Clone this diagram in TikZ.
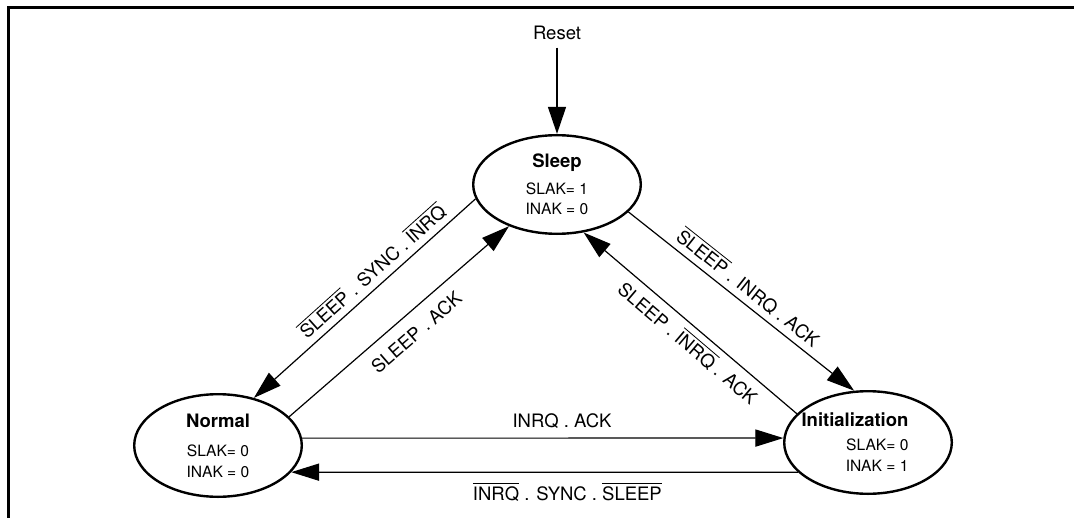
\documentclass[tikz,border=0pt]{standalone}
\usepackage{fontspec}
\setmainfont{TeX Gyre Heros}
\usetikzlibrary{arrows.meta,shapes.geometric}

\newcommand{\negsig}[1]{$\overline{\mbox{#1}}$}
\newcommand{\statename}[1]{{\fontsize{9.25}{10.4}\selectfont\bfseries #1}}
\newcommand{\padr}{\rule{13pt}{0pt}}

\begin{document}
\begin{tikzpicture}[
  x=0.5pt, y=0.5pt,
  state/.style={draw, ellipse, line width=1.2pt, minimum width=83.8pt,
                minimum height=51.3pt, inner sep=0pt, align=center,
                font=\fontsize{7.8}{10.4}\selectfont},
  trans/.style={line width=0.6pt, -{Triangle[length=14pt,width=8.6pt]}},
  lbl/.style={font=\fontsize{9.25}{11}\selectfont, inner sep=0pt}
]
\useasboundingbox (0,0) rectangle (1074,-518);
% frame
\draw[line width=1.3pt] (8.5,-530) -- (8.5,-7.5) -- (1090,-7.5);

% states
\node[state, minimum height=49.3pt] (sleep) at (557,-184.5)
  {\statename{Sleep}\\[2.9pt] SLAK= 1\\ INAK = 0};
\node[state] (normal) at (218,-445.5)
  {\statename{Normal}\\[4.1pt] SLAK= 0\\ INAK = 0};
\node[state, align=right, inner xsep=-4pt] (init) at (868,-442.5)
  {\statename{Initialization}\padr\\[1.6pt] SLAK= 0\padr\\ INAK = 1\padr};

% reset
\node[font=\fontsize{9.25}{11}\selectfont, inner sep=3.7pt] (reset) at (557,-33) {Reset};
\draw[line width=1.2pt, -{Triangle[length=13.5pt,width=8.8pt]}] (reset) -- (sleep);

% transitions
\draw[trans] (sleep.190) -- node[lbl, sloped, above=3pt, pos=0.42]
  {\negsig{SLEEP} . SYNC . \negsig{INRQ}} (normal.53);
\draw[trans] (normal.22) -- node[lbl, sloped, below=6pt, pos=0.52]
  {SLEEP . ACK} (sleep.221);
\draw[trans] (sleep.339) -- node[lbl, sloped, above=3pt, pos=0.49]
  {\negsig{SLEEP} . INRQ . ACK} (init.105);
\draw[trans] (init.158) -- node[lbl, sloped, below=2.8pt, pos=0.46]
  {SLEEP . \negsig{INRQ} . ACK} (sleep.299);
\draw[trans] (normal.5) -- node[lbl, above=4.3pt, pos=0.54]
  {INRQ . ACK} (init.177);
\draw[trans] (init.203) -- node[lbl, below=4.7pt, pos=0.455]
  {\negsig{INRQ} . SYNC . \negsig{SLEEP}} (normal.340);
\end{tikzpicture}
\end{document}
